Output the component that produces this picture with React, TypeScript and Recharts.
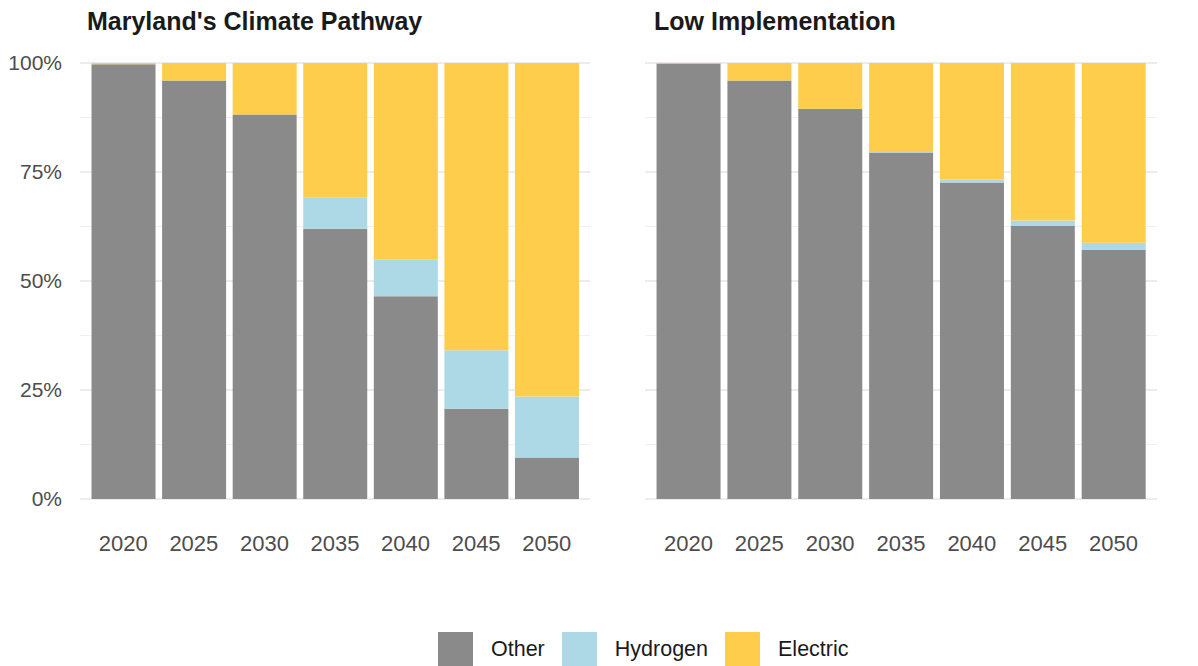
import * as React from "react";
import { BarChart, Bar, XAxis, YAxis, CartesianGrid } from "recharts";

// years on the x axis
const years = ["2020", "2025", "2030", "2035", "2040", "2045", "2050"];

// share of vehicles (%) - Maryland's Climate Pathway
const mcpOther = [99.7, 96.0, 88.2, 62.0, 46.5, 20.7, 9.5];
const mcpHydrogen = [0, 0, 0, 7.1, 8.5, 13.4, 14.0];
const mcpElectric = [0.3, 4.0, 11.8, 30.9, 45.0, 65.9, 76.5];

// share of vehicles (%) - Low Implementation
const lowOther = [99.9, 96.0, 89.5, 79.5, 72.6, 62.6, 57.1];
const lowHydrogen = [0, 0, 0, 0.3, 0.7, 1.3, 1.7];
const lowElectric = [0.1, 4.0, 10.5, 20.2, 26.7, 36.1, 41.2];

const yTicks = [0, 25, 50, 75, 100];
const minorTicks = [12.5, 37.5, 62.5, 87.5];

const seriesNames = ["Other", "Hydrogen", "Electric"];
const COLORS = ["#8b8a8a", "#add8e6", "#fecd4c"];

const FONT = "'Liberation Sans', Arial, Helvetica, sans-serif";
const TEXT = "#4d4d4d";

const toRows = (o: number[], h: number[], e: number[]) =>
  years.map((y, i) => ({ year: y, Other: o[i], Hydrogen: h[i], Electric: e[i] }));

type PanelProps = {
  rows: any[];
  width: number;
  margin: { top: number; right: number; bottom: number; left: number };
  showY: boolean;
};

const Panel = ({ rows, width, margin, showY }: PanelProps) => (
  <BarChart width={width} height={666} data={rows} margin={margin} barCategoryGap="5%">
    {/* minor grid first, then major */}
    <CartesianGrid vertical={false} horizontalValues={minorTicks} stroke="#f0f0f0" strokeWidth={1} />
    <CartesianGrid vertical={false} horizontalValues={yTicks} stroke="#e6e6e6" strokeWidth={1.5} />
    <XAxis
      dataKey="year"
      axisLine={false}
      tickLine={false}
      tickSize={0}
      tickMargin={36}
      height={60}
      padding={{ left: 8, right: 8 }}
      tick={{ fill: TEXT, fontSize: 22, fontFamily: FONT }}
    />
    <YAxis
      hide={!showY}
      domain={[0, 100]}
      ticks={yTicks}
      width={80}
      axisLine={false}
      tickLine={false}
      tickMargin={12}
      tickFormatter={(v: number) => v + "%"}
      tick={{ fill: TEXT, fontSize: 21, fontFamily: FONT }}
    />
    {seriesNames.map((name, i) => (
      <Bar key={name} dataKey={name} stackId="a" fill={COLORS[i]} isAnimationActive={false} />
    ))}
  </BarChart>
);

const titleStyle: React.CSSProperties = {
  position: "absolute",
  top: 7,
  fontFamily: FONT,
  fontWeight: "bold",
  fontSize: 25,
  color: "#1a1a1a",
  whiteSpace: "nowrap",
};

const App = () => {
  const mcpRows = toRows(mcpOther, mcpHydrogen, mcpElectric);
  const lowRows = toRows(lowOther, lowHydrogen, lowElectric);
  return (
    <div style={{ position: "absolute", left: 0, top: 0, width: 1198, height: 666, background: "#fff", overflow: "hidden" }}>
      <div style={{ position: "absolute", left: 0, top: 0 }}>
        <Panel rows={mcpRows} width={600} margin={{ top: 63, right: 10, bottom: 107, left: 0 }} showY={true} />
      </div>
      <div style={{ position: "absolute", left: 600, top: 0 }}>
        <Panel rows={lowRows} width={598} margin={{ top: 63, right: 41, bottom: 107, left: 45 }} showY={false} />
      </div>
      <div style={{ ...titleStyle, left: 87 }}>Maryland's Climate Pathway</div>
      <div style={{ ...titleStyle, left: 654 }}>Low Implementation</div>
      {/* legend */}
      <div style={{ position: "absolute", left: 438, top: 632, display: "flex", alignItems: "center", fontFamily: FONT, fontSize: 21.5, color: "#1a1a1a" }}>
        {seriesNames.map((name, i) => (
          <div key={name} style={{ display: "flex", alignItems: "center", marginRight: 17 }}>
            <div style={{ width: 35, height: 35, background: COLORS[i], marginRight: 18 }} />
            <span>{name}</span>
          </div>
        ))}
      </div>
    </div>
  );
};

export default App;
